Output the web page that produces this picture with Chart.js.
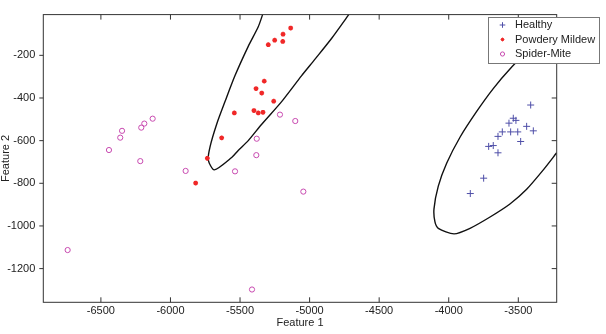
<!DOCTYPE html>
<html>
<head>
<meta charset="utf-8">
<script src="https://cdn.jsdelivr.net/npm/chart.js@4/dist/chart.umd.min.js"></script>
<style>
  html, body { margin: 0; padding: 0; background: #fff; }
  #wrap { width: 606px; height: 334px; }
</style>
</head>
<body>
<div id="wrap"><canvas id="chart" width="606" height="334"></canvas></div>
<script>
// Werte
const healthyX = [-3411, -3536, -3517, -3567, -3440, -3392, -3615, -3555, -3504, -3646, -3483, -3713, -3680, -3646, -3749, -3845];
const healthyY = [-433, -495, -505, -518, -533, -554, -559, -559, -559, -580, -604, -627, -623, -657, -776, -848];

const mildewX = [-5136, -5191, -5251, -5193, -5297, -5326, -5385, -5344, -5258, -5541, -5400, -5369, -5335, -5632, -5735, -5819];
const mildewY = [-72, -101, -129, -135, -150, -321, -356, -377, -415, -470, -459, -470, -467, -587, -683, -799];

const miteX = [-6128, -6188, -6210, -6348, -6361, -6442, -6217, -5891, -6739, -5213, -5103, -5380, -5383, -5536, -5045, -5414];
const miteY = [-497, -520, -539, -554, -586, -644, -696, -742, -1113, -478, -508, -591, -668, -744, -839, -1298];

// Entscheidungsgrenzen (nachgezeichnet)
const boundLeftX = [-5337, -5369, -5441, -5536, -5608, -5668, -5716, -5728, -5685, -5560, -5513, -5441, -5344, -5201, -5057, -4961, -4841, -4717];
const boundLeftY = [-8, -66, -158, -295, -417, -523, -630, -691, -737, -679, -646, -600, -523, -417, -295, -218, -120, -8];
const boundRightX = [-3231, -3560, -3680, -3799, -3919, -4015, -4075, -4106, -4099, -4075, -3962, -3847, -3703, -3560, -3440, -3320, -3224];
const boundRightY = [-43, -264, -356, -463, -584, -706, -813, -920, -981, -1011, -1037, -1011, -958, -897, -828, -737, -657];

const xTicks = [-6500, -6000, -5500, -5000, -4500, -4000, -3500];
const yTicks = [-1200, -1000, -800, -600, -400, -200];
const xRange = [-6914, -3224];
const yRange = [-1358, -9];

const FONT = "'Liberation Sans', Arial, Helvetica, sans-serif";

const toPoints = (xs, ys) => xs.map((x, i) => ({ x, y: ys[i] }));

// Rahmen + Ticks (Matlab-Stil) und Legende oben rechts
const frameAndLegend = {
    id: 'frameAndLegend',
    afterDatasetsDraw(chart) {
        const { ctx, chartArea: a, scales } = chart;
        const sx = scales.x, sy = scales.y;
        ctx.save();
        ctx.strokeStyle = '#333';
        ctx.lineWidth = 1;
        ctx.strokeRect(a.left, a.top, a.right - a.left, a.bottom - a.top);
        ctx.beginPath();
        sx.ticks.forEach(t => {
            const px = sx.getPixelForValue(t.value);
            ctx.moveTo(px, a.bottom); ctx.lineTo(px, a.bottom - 5);
            ctx.moveTo(px, a.top); ctx.lineTo(px, a.top + 5);
        });
        sy.ticks.forEach(t => {
            const py = sy.getPixelForValue(t.value);
            ctx.moveTo(a.left - 4, py); ctx.lineTo(a.left, py);
            ctx.moveTo(a.right, py); ctx.lineTo(a.right - 5, py);
        });
        ctx.stroke();

        // Legende
        const bx = 488, by = 17, bw = 111, bh = 46;
        ctx.fillStyle = '#fff';
        ctx.fillRect(bx, by, bw, bh);
        ctx.strokeStyle = '#777';
        ctx.strokeRect(bx + 0.5, by + 0.5, bw, bh);
        ctx.font = '11px ' + FONT;
        ctx.textBaseline = 'middle';
        chart.data.datasets.filter(d => d.inLegend).forEach((d, i) => {
            const yy = by + 8 + i * 14.5;
            ctx.strokeStyle = d.borderColor;
            ctx.fillStyle = d.backgroundColor;
            Chart.helpers.drawPoint(ctx, {
                pointStyle: d.pointStyle, radius: d.pointRadius * 0.8,
                borderWidth: d.borderWidth, rotation: 0
            }, 502.5, yy);
            ctx.fillStyle = '#222';
            ctx.fillText(d.label, 515, yy);
        });
        ctx.restore();
    }
};

new Chart(document.getElementById('chart'), {
    type: 'scatter',
    data: {
        datasets: [
            {
                label: 'Healthy', inLegend: true,
                data: toPoints(healthyX, healthyY),
                pointStyle: 'cross', pointRadius: 3.5, borderWidth: 1,
                borderColor: '#4f4fa8', backgroundColor: '#4f4fa8'
            },
            {
                label: 'Powdery Mildew', inLegend: true,
                data: toPoints(mildewX, mildewY),
                pointStyle: 'star', pointRadius: 2.4, borderWidth: 1.5,
                borderColor: '#f02828', backgroundColor: '#f02828'
            },
            {
                label: 'Spider-Mite', inLegend: true,
                data: toPoints(miteX, miteY),
                pointStyle: 'circle', pointRadius: 2.6, borderWidth: 1,
                borderColor: '#c84ab0', backgroundColor: 'rgba(0,0,0,0)'
            },
            {
                label: 'boundary1', type: 'line', showLine: true,
                data: toPoints(boundLeftX, boundLeftY),
                pointRadius: 0, borderWidth: 1.4, borderColor: '#111', tension: 0.25, fill: false
            },
            {
                label: 'boundary2', type: 'line', showLine: true,
                data: toPoints(boundRightX, boundRightY),
                pointRadius: 0, borderWidth: 1.4, borderColor: '#111', tension: 0.25, fill: false
            }
        ]
    },
    options: {
        responsive: false,
        animation: false,
        layout: { padding: { top: 7.3, right: 49.3, left: 0, bottom: 0 } },
        plugins: {
            legend: { display: false },
            tooltip: { enabled: false }
        },
        scales: {
            x: {
                type: 'linear', position: 'bottom',
                min: xRange[0], max: xRange[1],
                afterBuildTicks: s => { s.ticks = xTicks.map(v => ({ value: v })); },
                afterFit: s => { s.height = 31.7; },
                grid: { display: false, drawTicks: false },
                border: { display: false },
                ticks: {
                    padding: 2, color: '#222', maxRotation: 0,
                    font: { family: FONT, size: 11 },
                    callback: v => String(v)
                },
                title: {
                    display: true, text: 'Feature 1', color: '#222',
                    font: { family: FONT, size: 11 }, padding: { top: 0, bottom: 4 }
                }
            },
            y: {
                type: 'linear', position: 'left',
                min: yRange[0], max: yRange[1],
                afterBuildTicks: s => { s.ticks = yTicks.map(v => ({ value: v })); },
                afterFit: s => { s.width = 43.3; },
                grid: { display: false, drawTicks: false },
                border: { display: false },
                ticks: {
                    padding: 8, color: '#222',
                    font: { family: FONT, size: 11 },
                    callback: v => String(v)
                },
                title: {
                    display: true, text: 'Feature 2', color: '#222',
                    font: { family: FONT, size: 11 }, padding: { top: -1, bottom: 0 }
                }
            }
        }
    },
    plugins: [frameAndLegend]
});
</script>
</body>
</html>
